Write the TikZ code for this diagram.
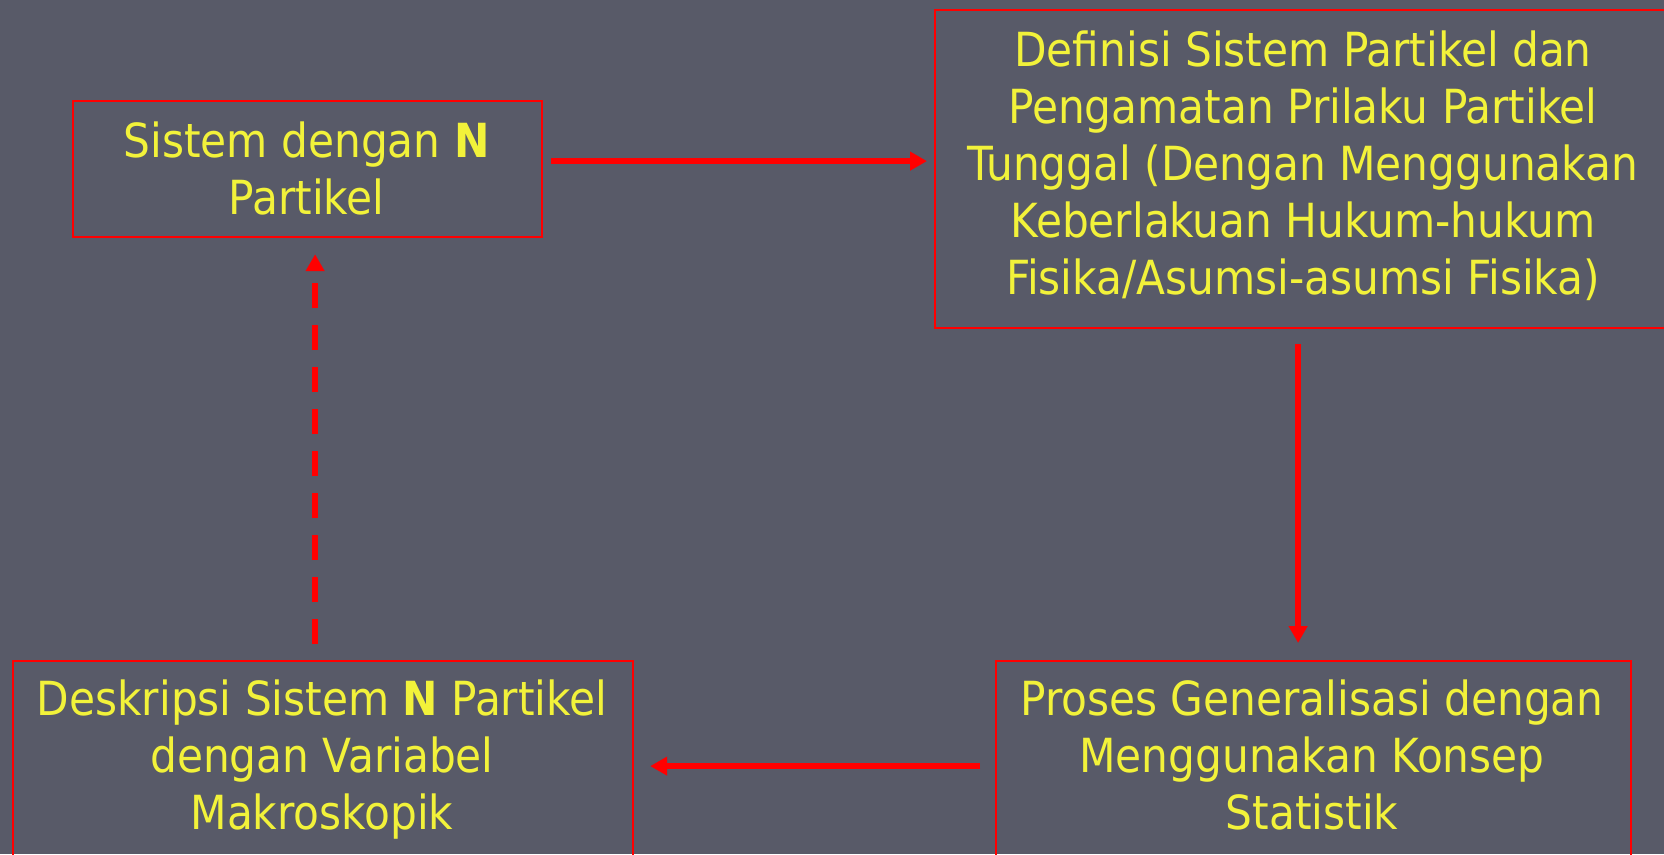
\documentclass[tikz,border=0pt]{standalone}
\usepackage{fontspec}
\setmainfont{DejaVu Sans Condensed}
\usetikzlibrary{arrows.meta}
\definecolor{bgcol}{RGB}{88,90,104}
\definecolor{txtcol}{RGB}{242,242,58}
\definecolor{redcol}{RGB}{255,0,0}
\begin{document}
\begin{tikzpicture}[x=1pt,y=-1pt,
  boxnode/.style={draw=redcol, line width=2.2pt, rectangle, inner sep=0pt},
  txtnode/.style={text=txtcol, align=center, inner sep=0pt, font=\fontsize{47}{57}\selectfont},
  conn/.style={draw=redcol, line width=6pt, -{Triangle[length=17pt,width=18pt]}},
  dconn/.style={conn, dash pattern=on 25pt off 17pt}
]
\useasboundingbox[fill=bgcol] (0,0) rectangle (1664,854);
% boxes
\node[boxnode, minimum width=469pt, minimum height=136pt, anchor=north west] (b1) at (72,100) {};
\node[boxnode, minimum width=738pt, minimum height=318pt, anchor=north west] (b2) at (934,9) {};
\node[boxnode, minimum width=620pt, minimum height=210pt, anchor=north west] (b3) at (12,660) {};
\node[boxnode, minimum width=635pt, minimum height=210pt, anchor=north west] (b4) at (995,660) {};
% texts
\node[txtnode] (t1) at (306.5,168) {Sistem dengan \textbf{N}\\Partikel};
\node[txtnode] (t2) at (1303,166) {Definisi Sistem Partikel dan\\Pengamatan Prilaku Partikel\\Tunggal (Dengan Menggunakan\\Keberlakuan Hukum-hukum\\Fisika/Asumsi-asumsi Fisika)};
\node[txtnode] (t3) at (322,759.5) {Deskripsi Sistem \textbf{N} Partikel\\dengan Variabel\\Makroskopik};
\node[txtnode] (t4) at (1312,755) {Proses Generalisasi dengan\\Menggunakan Konsep\\Statistik};
% connectors
\draw[conn] ([xshift=8pt,yshift=8pt]b1.east) -- ([xshift=-7pt,yshift=8pt]b2.west);
\draw[conn] ([xshift=-6pt,yshift=-15pt]b2.south) -- ([xshift=-15.5pt,yshift=17pt]b4.north);
\draw[conn] ([xshift=-15pt]b4.west) -- ([xshift=16pt]b3.east);
\draw[dconn] ([xshift=-8pt,yshift=16pt]b3.north) -- ([xshift=7.5pt,yshift=-16pt]b1.south);
\end{tikzpicture}
\end{document}
